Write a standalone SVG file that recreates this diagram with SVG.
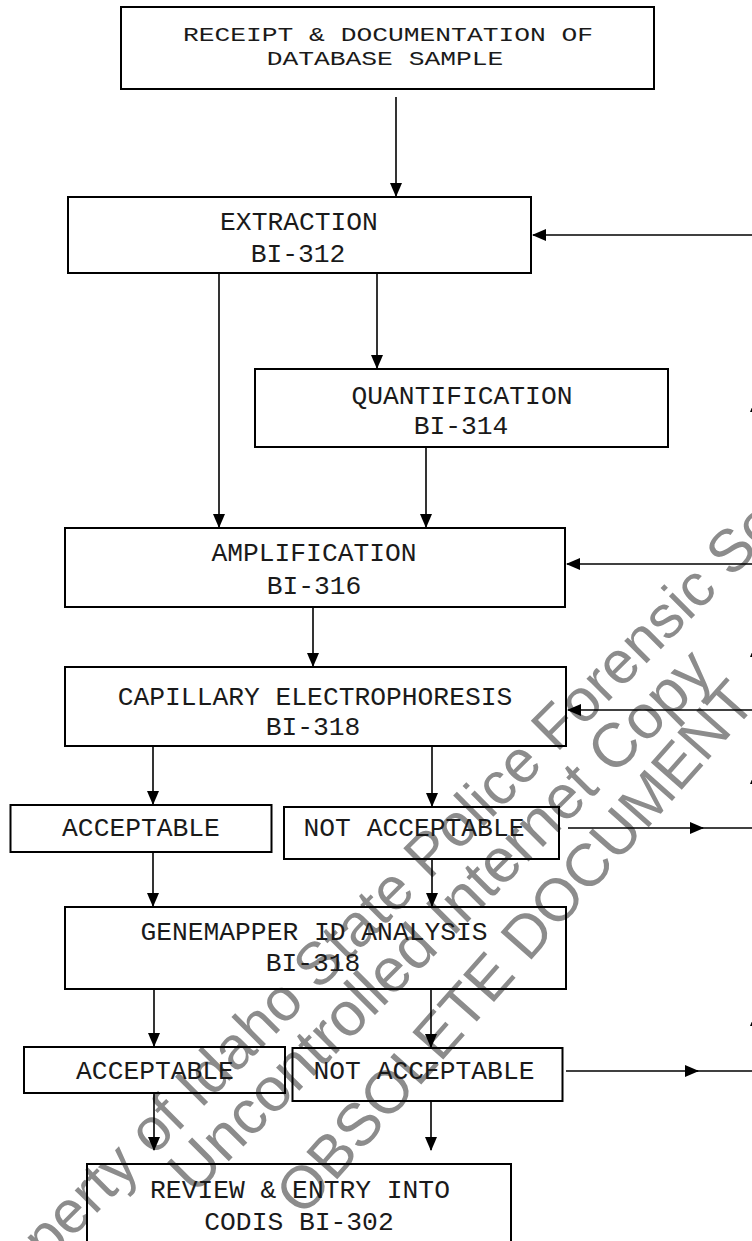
<svg xmlns="http://www.w3.org/2000/svg" width="752" height="1241" viewBox="0 0 752 1241">
<style>
.bg{fill:#ffffff}
.box{fill:none;stroke:#000;stroke-width:2}
.t{font-family:"Liberation Mono","Courier New",monospace;font-size:26.3px;fill:#1a1a1a;text-anchor:middle}
.wm{font-family:"Liberation Sans",Arial,sans-serif;fill:#8c8c8c}
.ln{fill:none;stroke:#000;stroke-width:1.6}
.ah{fill:#000}
</style>
<defs>
<marker id="arr" markerWidth="14" markerHeight="12" refX="13" refY="6" orient="auto" markerUnits="userSpaceOnUse">
<path d="M0,0 L14,6 L0,12 Z" fill="#000"/>
</marker>
</defs>
<rect class="bg" x="0" y="0" width="752" height="1241"/>
<g id="watermark">
<text class="wm" font-size="60" transform="translate(-19,1329) rotate(-45)">Property of Idaho State Police Forensic Services</text>
<text class="wm" font-size="62" transform="translate(194,1196) rotate(-45)">Uncontrolled Internet Copy</text>
<text class="wm" font-size="60" transform="translate(303,1218) rotate(-48.5)">OBSOLETE DOCUMENT</text>
</g>
<g id="connectors">
<line class="ln" x1="396" y1="97" x2="396" y2="196" marker-end="url(#arr)"/>
<line class="ln" x1="752" y1="235" x2="533" y2="235" marker-end="url(#arr)"/>
<line class="ln" x1="219" y1="273" x2="219" y2="527" marker-end="url(#arr)"/>
<line class="ln" x1="377" y1="273" x2="377" y2="368" marker-end="url(#arr)"/>
<line class="ln" x1="426" y1="447" x2="426" y2="527" marker-end="url(#arr)"/>
<line class="ln" x1="752" y1="564" x2="567" y2="564" marker-end="url(#arr)"/>
<line class="ln" x1="313" y1="607" x2="313" y2="666" marker-end="url(#arr)"/>
<line class="ln" x1="752" y1="710" x2="568" y2="710" marker-end="url(#arr)"/>
<line class="ln" x1="153" y1="746" x2="153" y2="804" marker-end="url(#arr)"/>
<line class="ln" x1="432" y1="746" x2="432" y2="806" marker-end="url(#arr)"/>
<line class="ln" x1="568" y1="828" x2="703" y2="828" marker-end="url(#arr)"/>
<line class="ln" x1="690" y1="828" x2="752" y2="828"/>
<line class="ln" x1="153" y1="852" x2="153" y2="906" marker-end="url(#arr)"/>
<line class="ln" x1="432" y1="859" x2="432" y2="906" marker-end="url(#arr)"/>
<line class="ln" x1="154" y1="989" x2="154" y2="1046" marker-end="url(#arr)"/>
<line class="ln" x1="431" y1="989" x2="431" y2="1047" marker-end="url(#arr)"/>
<line class="ln" x1="566" y1="1071" x2="698" y2="1071" marker-end="url(#arr)"/>
<line class="ln" x1="685" y1="1071" x2="752" y2="1071"/>
<line class="ln" x1="154" y1="1093" x2="154" y2="1150" marker-end="url(#arr)"/>
<line class="ln" x1="431" y1="1101" x2="431" y2="1150" marker-end="url(#arr)"/>
<path class="ah" d="M756,398 L762,412 L750,412 Z"/>
<path class="ah" d="M756,643 L762,657 L750,657 Z"/>
<path class="ah" d="M756,770 L762,784 L750,784 Z"/>
<path class="ah" d="M756,1012 L762,1026 L750,1026 Z"/>
</g>
<g id="n-receipt">
<rect class="box" x="121" y="7" width="533" height="82"/>
<text class="t" transform="translate(388,41) scale(1,0.78)">RECEIPT &amp; DOCUMENTATION OF</text>
<text class="t" transform="translate(385,65) scale(1,0.78)">DATABASE SAMPLE</text>
</g>
<g id="n-extraction">
<rect class="box" x="68" y="197" width="463" height="76"/>
<text class="t" x="299" y="230">EXTRACTION</text>
<text class="t" x="298" y="262">BI-312</text>
</g>
<g id="n-quantification">
<rect class="box" x="255" y="369" width="413" height="78"/>
<text class="t" x="462" y="404">QUANTIFICATION</text>
<text class="t" x="461" y="434">BI-314</text>
</g>
<g id="n-amplification">
<rect class="box" x="65" y="528" width="500" height="79"/>
<text class="t" x="314" y="561">AMPLIFICATION</text>
<text class="t" x="314" y="594">BI-316</text>
</g>
<g id="n-ce">
<rect class="box" x="65" y="667" width="501" height="79"/>
<text class="t" x="315" y="705">CAPILLARY ELECTROPHORESIS</text>
<text class="t" x="313" y="735">BI-318</text>
</g>
<g id="n-acc1">
<rect class="box" x="10.5" y="805" width="261" height="47"/>
<text class="t" x="141" y="836">ACCEPTABLE</text>
</g>
<g id="n-notacc1">
<rect class="box" x="284" y="807" width="275" height="52"/>
<text class="t" x="414" y="836">NOT ACCEPTABLE</text>
</g>
<g id="n-genemapper">
<rect class="box" x="65" y="907" width="501" height="82"/>
<text class="t" x="314" y="940">GENEMAPPER ID ANALYSIS</text>
<text class="t" x="313" y="971">BI-318</text>
</g>
<g id="n-acc2">
<rect class="box" x="24" y="1047" width="261" height="46"/>
<text class="t" x="155" y="1079">ACCEPTABLE</text>
</g>
<g id="n-notacc2">
<rect class="box" x="292.5" y="1048" width="270" height="53"/>
<text class="t" x="424" y="1079">NOT ACCEPTABLE</text>
</g>
<g id="n-review">
<rect class="box" x="87" y="1164" width="424" height="90"/>
<text class="t" x="300" y="1198">REVIEW &amp; ENTRY INTO</text>
<text class="t" x="299" y="1230">CODIS BI-302</text>
</g>
</svg>
